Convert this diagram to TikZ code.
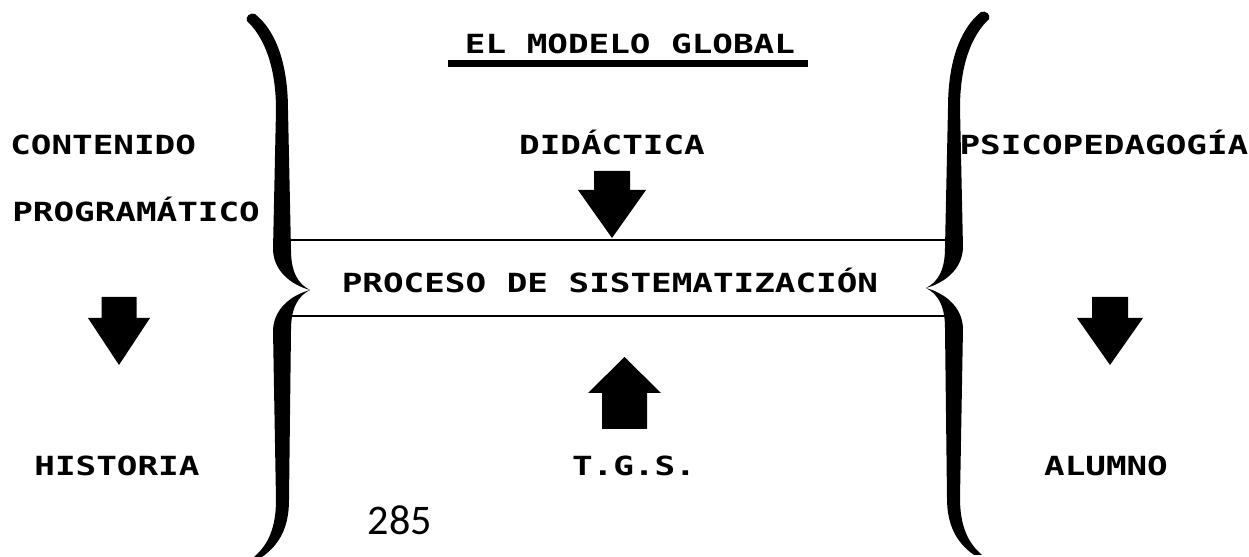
\documentclass[tikz,border=0pt]{standalone}
\usepackage{fontspec}
\usepackage{tikz}
\newfontfamily\matriz[FakeStretch=1.30]{DejaVu Sans Mono}
\newfontfamily\pagfont{Carlito}

\tikzset{
  rotulo/.style={font=\matriz\bfseries\fontsize{15}{18}\selectfont, inner sep=0pt, anchor=base},
  linea/.style={line width=1.7pt},
  pics/flecha/.style args={#1/#2/#3/#4}{code={
    \fill (0,0) -- (#2,-#3) -- (#1,-#3) -- (#1,-#4) -- (-#1,-#4) -- (-#1,-#3) -- (-#2,-#3) -- cycle;
  }},
  pics/llave/.style={code={
    \fill (247,21) .. controls (265,38) and (276,68) .. (276,110)
      -- (273,250) .. controls (274,272) and (292,285) .. (310,290)
      .. controls (292,295) and (274,308) .. (273,330)
      -- (276,500) .. controls (276,528) and (268,545) .. (254,557)
      -- (262,557) .. controls (279,545) and (289,528) .. (289,500)
      -- (291,330) .. controls (291,308) and (298,296) .. (310,290)
      .. controls (298,284) and (291,272) .. (291,250)
      -- (288,110) .. controls (288,62) and (275,30) .. (255,14)
      .. controls (250,12) and (245,17) .. cycle;
  }}
}

\begin{document}
\begin{tikzpicture}[x=0.02cm, y=-0.02cm]
  \useasboundingbox (0,0) rectangle (1249,557);

  % Llaves
  \pic at (0,0) {llave};
  \pic[xscale=-1] at (1236,-2) {llave};

  % Franja central
  \draw[linea] (291,240) -- (946,240);
  \draw[linea] (292,316) -- (946,316);

  % Titulo
  \node[rotulo] (titulo) at (630,54) {EL MODELO GLOBAL};
  \fill (448,60) rectangle (808,67);

  % Centro
  \node[rotulo] (didactica) at (612,155) {DIDÁCTICA};
  \node[rotulo] (proceso) at (610,293) {PROCESO DE SISTEMATIZACIÓN};
  \node[rotulo] (tgs) at (634,476) {T.G.S.};
  \node[font=\pagfont\fontsize{24}{28}\selectfont, inner sep=0pt, anchor=base] (pagina) at (400,535) {285};
  \pic at (612,238) {flecha=18/34/48/67};
  \pic[yscale=-1] at (624.5,357) {flecha=22.5/36.5/36/72};

  % Izquierda
  \node[rotulo, anchor=base west] (contenido) at (10,155) {CONTENIDO};
  \node[rotulo, anchor=base west] (programatico) at (12,222) {PROGRAMÁTICO};
  \node[rotulo] (historia) at (117,476) {HISTORIA};
  \pic at (119,365) {flecha=17.5/31/47/68};

  % Derecha
  \node[rotulo] (psico) at (1104,155) {PSICOPEDAGOGÍA};
  \node[rotulo] (alumno) at (1106,476) {ALUMNO};
  \pic at (1110,365) {flecha=18/33/47/68};
\end{tikzpicture}
\end{document}
